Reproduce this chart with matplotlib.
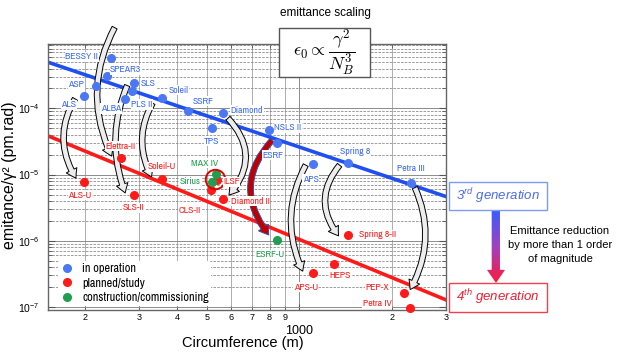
import numpy as np
import matplotlib
matplotlib.use("Agg")
import matplotlib.pyplot as plt
from matplotlib import font_manager
from matplotlib.colors import LinearSegmentedColormap
from matplotlib.patches import Rectangle, Polygon
from matplotlib.lines import Line2D
from matplotlib.ticker import FixedLocator, FixedFormatter, LogLocator, NullFormatter
from matplotlib.transforms import offset_copy

# ── data: light sources (circumference in m, emittance/gamma^2 in pm.rad) ──
op_names = ["BESSY II", "SPEAR3", "ASP", "ALS", "SLS", "PLS II", "ALBA", "Soleil",
            "SSRF", "TPS", "Diamond", "NSLS II", "ESRF", "APS", "Spring 8", "Petra III"]
op_circ = [243, 236, 218, 199, 290, 285, 271, 356, 435, 519, 564, 795, 846, 1105, 1435, 2306]
op_emit = [5.85e-4, 3.10e-4, 2.19e-4, 1.55e-4, 2.46e-4, 1.86e-4, 1.41e-4, 1.43e-4,
           9.07e-5, 5.02e-5, 8.46e-5, 4.73e-5, 2.98e-5, 1.44e-5, 1.49e-5, 7.57e-6]

plan_names = ["Elettra-II", "Soleil-U", "ALS-U", "SLS-II", "CLS-II", "ILSF", "Diamond II",
              "Spring 8-II", "APS-U", "HEPS", "PEP-X", "Petra IV"]
plan_circ = [262, 356, 199, 290, 514, 541, 564, 1435, 1105, 1299, 2193, 2293]
plan_emit = [1.77e-5, 8.61e-6, 7.68e-6, 4.93e-6, 5.81e-6, 8.32e-6, 4.27e-6,
             1.23e-6, 3.24e-7, 4.48e-7, 1.65e-7, 9.6e-8]

cons_names = ["MAX IV", "Sirius", "ESRF-U"]
cons_circ = [534, 520, 844]
cons_emit = [1.01e-5, 7.84e-6, 1.03e-6]

# trend lines (end points)
gen3_x = [152, 3000]
gen3_y = [4.99e-4, 4.66e-6]
gen4_x = [152, 3000]
gen4_y = [3.85e-5, 1.28e-7]

# upgrade paths: old ring -> new ring
upgrades = [("ALS", "ALS-U"), ("BESSY II", "Elettra-II"), ("SLS", "SLS-II"),
            ("Soleil", "Soleil-U"), ("Diamond", "Diamond II"), ("ESRF", "ESRF-U"),
            ("APS", "APS-U"), ("Spring 8", "Spring 8-II"), ("Petra III", "PEP-X")]

x_minor = [200, 300, 400, 500, 600, 700, 800, 900, 2000, 3000]
x_minor_labels = ["2", "3", "4", "5", "6", "7", "8", "9", "2", "3"]

# ── styling ──
BLUE_PT = "#4a78f5"
BLUE_TXT = "#3c6af2"
BLUE_LINE = "#1f4ff0"
RED = "#ff1a1a"
GREEN = "#1e9e4e"

avail = sorted({f.name for f in font_manager.fontManager.ttflist})
narrow = [n for n in avail if "Narrow" in n or "Condensed" in n]
if narrow:
    NARROW, LBL_FS, LEG_FS = narrow[0], 7.0, 8.8
else:
    NARROW, LBL_FS, LEG_FS = "Liberation Sans", 6.5, 7.6

plt.rcParams["font.family"] = ["Liberation Sans", "DejaVu Sans"]
plt.rcParams["mathtext.fontset"] = "custom"
plt.rcParams["mathtext.rm"] = "Liberation Sans"
plt.rcParams["mathtext.it"] = "Liberation Sans:italic"
plt.rcParams["mathtext.bf"] = "Liberation Sans:bold"

W, H = 618, 355
fig = plt.figure(figsize=(W / 100, H / 100), dpi=100)
ax = fig.add_axes([48 / W, 1 - 310 / H, 398 / W, 266 / H])
ax.set_xscale("log")
ax.set_yscale("log")
ax.set_xlim(152, 3000)
ax.set_ylim(9.0e-8, 9.4e-4)

# grid
ax.grid(which="major", axis="both", color="#8c8c8c", lw=0.7)
ax.grid(which="minor", axis="y", color="#8c8c8c", lw=0.6, ls=(0, (3, 1.5)))
ax.grid(which="minor", axis="x", color="#a0a0a0", lw=0.6)
ax.set_axisbelow(True)

# ticks
ax.xaxis.set_major_locator(FixedLocator([1000]))
ax.xaxis.set_major_formatter(FixedFormatter(["1000"]))
ax.xaxis.set_minor_locator(FixedLocator(x_minor))
ax.xaxis.set_minor_formatter(FixedFormatter(x_minor_labels))
ax.yaxis.set_major_locator(LogLocator(base=10, numticks=10))
ax.yaxis.set_minor_locator(LogLocator(base=10, subs=np.arange(2, 10), numticks=10))
ax.yaxis.set_minor_formatter(NullFormatter())
ax.tick_params(which="both", direction="in", top=True, right=True, color="#555555")
ax.tick_params(axis="x", which="minor", labelsize=6.5, pad=2, length=3)
ax.tick_params(axis="x", which="major", labelsize=9, pad=11, length=4)
ax.tick_params(axis="y", which="major", labelsize=7.5, pad=6, length=5)
ax.tick_params(axis="y", which="minor", length=3)
for s in ax.spines.values():
    s.set_color("#666666")
    s.set_linewidth(1.0)

# trend lines
ax.plot(gen3_x, gen3_y, color=BLUE_LINE, lw=2.6, zorder=2)
ax.plot(gen4_x, gen4_y, color=RED, lw=2.6, zorder=2)

# points
ax.plot(op_circ, op_emit, "o", color=BLUE_PT, ms=5.5, zorder=5, clip_on=False)
ax.plot(plan_circ, plan_emit, "o", color=RED, ms=5.5, zorder=5, clip_on=False)
ax.plot(cons_circ, cons_emit, "o", color=GREEN, ms=5.5, zorder=5, clip_on=False)

# ring round MAX IV / Sirius / ILSF
ring_x = np.exp(np.mean(np.log([cons_circ[0], cons_circ[1], plan_circ[5]])))
ring_y = np.exp(np.mean(np.log([cons_emit[0], cons_emit[1], plan_emit[5]])))
ax.plot([ring_x], [ring_y], "o", ms=14, mfc="none", mec="#e00000", mew=1.4, zorder=6)

# labels (offsets in pixels from the point)
offsets = {
    "BESSY II": (-29, 1), "SPEAR3": (19, 6), "ASP": (-20, 1), "ALS": (-15, -9),
    "SLS": (14, -1), "PLS II": (10, -14), "ALBA": (-14, -10), "Soleil": (17, 8),
    "SSRF": (15, 10), "TPS": (0, -13), "Diamond": (24, 3), "NSLS II": (19, 2),
    "ESRF": (-4, -12), "APS": (-2, -15), "Spring 8": (8, 12), "Petra III": (0, 14),
    "Elettra-II": (0, 12), "Soleil-U": (0, 12), "ALS-U": (-4, -13), "SLS-II": (-1, -13),
    "CLS-II": (-21, -20), "ILSF": (14, -2), "Diamond II": (27, -2),
    "Spring 8-II": (30, 0), "APS-U": (-7, -14), "HEPS": (6, -12), "PEP-X": (-27, 5),
    "Petra IV": (-33, 5), "MAX IV": (-11, 11), "Sirius": (-22, 0), "ESRF-U": (-7, -15),
}
pos = {}
for names, xs, ys, col in [(op_names, op_circ, op_emit, BLUE_TXT),
                           (plan_names, plan_circ, plan_emit, RED),
                           (cons_names, cons_circ, cons_emit, GREEN)]:
    for n, x, y in zip(names, xs, ys):
        pos[n] = (x, y)
        dx, dy = offsets[n]
        ax.annotate(n, (x, y), xytext=(dx, dy), textcoords="offset pixels",
                    ha="center", va="center", fontsize=LBL_FS, family=NARROW, color=col,
                    zorder=7, annotation_clip=False,
                    bbox=dict(fc="white", ec="none", pad=0.4))

# upgrade arrows: (start offset, end offset, curvature)
arrow_geom = {
    "ALS": ((-9, -3), (-8, 4), 0.3),
    "BESSY II": ((4, 30), (-9, 2), 0.25),
    "SLS": ((-7, -3), (-9, 2), 0.2),
    "Soleil": ((-9, -5), (-10, 2), 0.27),
    "Diamond": ((5, -5), (6, 4), -0.45),
    "ESRF": ((-5, 3), (-8, 5), 0.42),
    "APS": ((-7, -1), (-10, 2), 0.25),
    "Spring 8": ((-8, -2), (-9, -1), 0.4),
    "Petra III": ((4, -5), (6, 3), -0.25),
}
for src, dst in upgrades:
    (sx, sy), (ex, ey), rad = arrow_geom[src]
    red = src == "ESRF"
    ax.annotate("", xy=pos[dst], xycoords=offset_copy(ax.transData, x=ex, y=ey, units="dots"),
                xytext=pos[src], textcoords=offset_copy(ax.transData, x=sx, y=sy, units="dots"),
                annotation_clip=False, zorder=4,
                arrowprops=dict(arrowstyle="simple,head_length=0.65,head_width=0.85,tail_width=0.4",
                                connectionstyle=f"arc3,rad={rad}", mutation_scale=10,
                                shrinkA=0, shrinkB=0,
                                fc="#c00000" if red else "#ededed",
                                ec="#3050a0" if red else "black", lw=0.7))

# legend
handles = [Line2D([], [], ls="none", marker="o", ms=5.5, color=c, label=l)
           for c, l in [(BLUE_PT, "in operation"), (RED, "planned/study"),
                        (GREEN, "construction/commissioning")]]
leg = ax.legend(handles=handles, loc="upper left", bbox_to_anchor=(0.025, 0.185),
                borderaxespad=0, borderpad=0.2, handlelength=1.0, handletextpad=0.8,
                labelspacing=0.28, frameon=True, framealpha=1, edgecolor="none",
                prop={"family": NARROW, "size": LEG_FS})
leg.set_zorder(8)

# axis titles
fig.text(10 / W, 1 - 175 / H, "emitance/γ² (pm.rad)", rotation=90, ha="center",
         va="center", fontsize=11.5)
fig.text(243 / W, 1 - 343 / H, "Circumference (m)", ha="center", va="center", fontsize=10.5)

# scaling formula
fig.text(325 / W, 1 - 13 / H, "emittance scaling", ha="center", va="center", fontsize=8.5)
fig.add_artist(Rectangle((279 / W, 1 - 77 / H), 91 / W, 49 / H, transform=fig.transFigure,
                         fc="white", ec="#555555", lw=1))
fig.text(324.5 / W, 1 - 53 / H, r"$\epsilon_0 \propto \dfrac{\gamma^2}{N_B^3}$",
         ha="center", va="center", fontsize=13, math_fontfamily="cm")

# generation boxes
fig.add_artist(Rectangle((449 / W, 1 - 210 / H), 98 / W, 28 / H, transform=fig.transFigure,
                         fill=False, ec="#7f9cf5", lw=1))
fig.text(498 / W, 1 - 196 / H, r"3$^{rd}$ generation", ha="center", va="center",
         fontsize=9.5, style="italic", color="#4a6cf0")
fig.add_artist(Rectangle((449 / W, 1 - 312 / H), 98 / W, 29 / H, transform=fig.transFigure,
                         fill=False, ec="#f04050", lw=1))
fig.text(498 / W, 1 - 297.5 / H, r"4$^{th}$ generation", ha="center", va="center",
         fontsize=9.5, style="italic", color="#f01e32")

# gradient arrow
gax = fig.add_axes([487 / W, 1 - 283 / H, 18 / W, 73 / H])
gax.set_axis_off()
cmap = LinearSegmentedColormap.from_list("br", ["#3a5cff", "#a040c0", "#ff1a3a"])
im = gax.imshow(np.linspace(0, 1, 100).reshape(-1, 1), aspect="auto", cmap=cmap,
                extent=[0, 1, 0, 1], origin="upper")
shape = Polygon([(0.26, 1), (0.72, 1), (0.72, 0.18), (1, 0.18), (0.5, 0), (0, 0.18),
                 (0.26, 0.18)], closed=True, fc="none", ec="none", transform=gax.transData)
gax.add_patch(shape)
im.set_clip_path(shape)
gax.set_xlim(0, 1)
gax.set_ylim(0, 1)

fig.text(560 / W, 1 - 245 / H, "Emittance reduction\nby more than 1 order\nof magnitude",
         ha="center", va="center", fontsize=8, linespacing=1.45)

fig.savefig("out.png", dpi=100)
